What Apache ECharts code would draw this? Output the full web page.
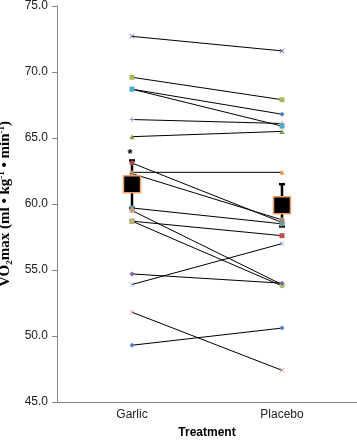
<!DOCTYPE html>
<html>
<head>
<meta charset="utf-8">
<script src="https://cdn.jsdelivr.net/npm/echarts@6/dist/echarts.min.js"></script>
<style>
  html, body { margin: 0; padding: 0; background: #fff; }
  #chart { width: 357px; height: 441px; }
</style>
</head>
<body>
<div id="chart"></div>
<script>
// treatment groups
var categories = ['Garlic', 'Placebo'];

// one value per subject, same order in both arrays
var garlic  = [72.7, 69.6, 68.7, 68.7, 66.4, 65.1, 63.1, 62.4, 62.3, 59.7, 59.5, 58.7, 58.7, 54.7, 53.9, 51.8, 49.3];
var placebo = [71.6, 67.9, 66.8, 65.9, 66.1, 65.5, 58.6, 62.4, 58.8, 58.5, 53.9, 57.6, 53.8, 54.0, 57.0, 47.4, 50.6];

// group mean and error
var meanValues = [61.5, 59.9];
var errValues = [1.8, 1.6];
var sigMarks = ['*', ''];

// marker look for each subject
var xPath = 'path://M0,1L1,0L5,4L9,0L10,1L6,5L10,9L9,10L5,6L1,10L0,9L4,5Z';
var plusPath = 'path://M4,0H6V4H10V6H6V10H4V6H0V4H4Z';
var markers = [xPath, 'rect', 'diamond', 'rect', plusPath, 'triangle', 'circle', 'triangle',
               'circle', 'rect', 'circle', 'rect', 'circle', 'diamond', xPath, xPath, 'diamond'];
var colors = ['#5f5a99', '#aabb55', '#4a7ebb', '#4bacc6', '#9a94b8', '#7f9f45', '#a0484a', '#f79646',
              '#a68a6a', '#6f9a9a', '#c9a07a', '#c0504d', '#a6c46a', '#8064a2', '#8fa9d8', '#d99694', '#4f81bd'];

var chart = echarts.init(document.getElementById('chart'));

var series = [];
for (var i = 0; i < garlic.length; i++) {
  series.push({
    type: 'line',
    data: [garlic[i], placebo[i]],
    symbol: markers[i],
    symbolSize: 5,
    showAllSymbol: true,
    itemStyle: { color: colors[i] },
    lineStyle: { color: '#000', width: 1 },
    emphasis: { disabled: true },
    z: 3
  });
}

// error bars
series.push({
  type: 'custom',
  z: 2,
  data: meanValues.map(function (m, k) { return [k, m - errValues[k], m + errValues[k]]; }),
  renderItem: function (params, api) {
    var lo = api.coord([api.value(0), api.value(1)]);
    var hi = api.coord([api.value(0), api.value(2)]);
    var cw = 3;
    var style = { stroke: '#000', lineWidth: 2.5 };
    var kids = [
      { type: 'line', shape: { x1: lo[0], y1: lo[1], x2: hi[0], y2: hi[1] }, style: style },
      { type: 'line', shape: { x1: lo[0] - cw, y1: lo[1], x2: lo[0] + cw, y2: lo[1] }, style: style },
      { type: 'line', shape: { x1: hi[0] - cw, y1: hi[1], x2: hi[0] + cw, y2: hi[1] }, style: style }
    ];
    var mark = sigMarks[params.dataIndex];
    if (mark) {
      kids.push({
        type: 'text',
        style: {
          text: mark, x: hi[0] - 2, y: hi[1] - 6,
          fill: '#000', font: 'bold 13px "Liberation Sans"',
          align: 'center', verticalAlign: 'middle'
        },
        z2: 10
      });
    }
    return { type: 'group', children: kids };
  }
});

// group means
series.push({
  type: 'scatter',
  data: meanValues,
  symbol: 'rect',
  symbolSize: 17,
  itemStyle: { color: '#000', borderColor: '#f2a06a', borderWidth: 1.5, opacity: 1 },
  emphasis: { disabled: true },
  z: 5
});

var option = {
  animation: false,
  grid: { left: 57, right: 0, top: 6, bottom: 39, outerBoundsMode: 'none' },
  xAxis: {
    type: 'category',
    data: categories,
    name: 'Treatment',
    nameLocation: 'middle',
    nameGap: 25,
    nameTextStyle: { fontFamily: 'Liberation Sans', fontWeight: 'bold', fontSize: 12, color: '#000' },
    axisLine: { lineStyle: { color: '#868686' } },
    axisTick: { length: 5, lineStyle: { color: '#868686' } },
    axisLabel: { fontFamily: 'Liberation Sans', fontSize: 12, color: '#222', margin: 7 }
  },
  yAxis: {
    type: 'value',
    min: 45,
    max: 75,
    interval: 5,
    name: '{a|VO}{s|2}{a|max (ml • kg}{p|-1}{a| • min}{p|-1}{a|)}',
    nameLocation: 'middle',
    nameRotate: 90,
    nameGap: 36,
    nameTextStyle: {
      rich: {
        a: { fontFamily: 'Liberation Serif', fontWeight: 'bold', fontSize: 15, color: '#000', lineHeight: 17 },
        s: { fontFamily: 'Liberation Serif', fontWeight: 'bold', fontSize: 9, color: '#000', lineHeight: 17, verticalAlign: 'bottom' },
        p: { fontFamily: 'Liberation Serif', fontWeight: 'bold', fontSize: 9, color: '#000', lineHeight: 17, verticalAlign: 'top' }
      }
    },
    axisLine: { show: true, lineStyle: { color: '#868686' } },
    axisTick: { show: true, length: 5, lineStyle: { color: '#868686' } },
    splitLine: { show: false },
    axisLabel: {
      fontFamily: 'Liberation Sans', fontSize: 12, color: '#222', margin: 9,
      formatter: function (v) { return v.toFixed(1); }
    }
  },
  series: series
};

chart.setOption(option);
</script>
</body>
</html>
